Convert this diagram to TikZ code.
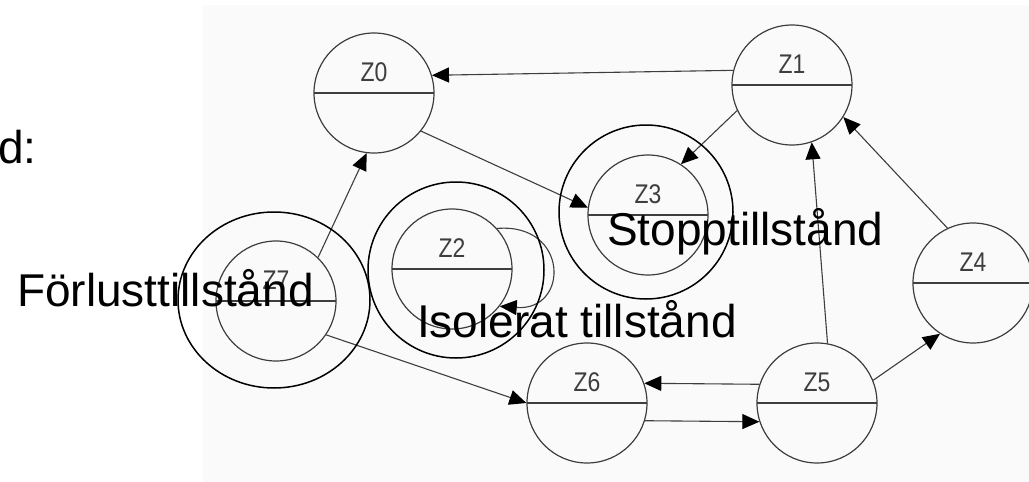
\documentclass[tikz,border=0pt]{standalone}
\usepackage{fontspec}
\setmainfont{Liberation Sans}
\usetikzlibrary{arrows.meta}
\definecolor{stgrey}{RGB}{62,62,62}
\definecolor{bgpaper}{RGB}{250,250,250}
\tikzset{
  state/.style={circle, draw=stgrey, line width=1.2pt, minimum size=120pt,
                inner sep=0pt,
                path picture={\draw[stgrey, line width=1.3pt]
                  (path picture bounding box.west) -- (path picture bounding box.east);}},
  zlbl/.style={font=\fontsize{27}{30}\selectfont, text=stgrey, inner sep=0pt,
               yshift=21pt, xscale=0.85},
  ring/.style={draw=black, line width=1.5pt},
  flow/.style={-{Triangle[length=17pt, width=15pt, color=black]}, line width=1.1pt,
               color=stgrey},
  big/.style={font=\fontsize{46}{55}\selectfont, inner sep=0pt, anchor=base west},
}
\begin{document}
\begin{tikzpicture}[x=1pt, y=-1pt]
\useasboundingbox (0,0) rectangle (1029,482);
\fill[bgpaper] (203,5) rectangle (1029,482);

% states
\node[state, label={[zlbl]center:Z0}] (z0) at (374,93) {};
\node[state, label={[zlbl]center:Z1}] (z1) at (792,85) {};
\node[state, label={[zlbl]center:Z2}] (z2) at (452,269) {};
\node[state, label={[zlbl]center:Z3}] (z3) at (648,215) {};
\node[state, label={[zlbl]center:Z4}] (z4) at (973,283) {};
\node[state, label={[zlbl]center:Z5}] (z5) at (817,403) {};
\node[state, label={[zlbl]center:Z6}] (z6) at (587,403) {};
\node[state, label={[zlbl]center:Z7}] (z7) at (276,301) {};

% transitions
\draw[flow] (z1.166) -- (z0.17);
\draw[flow] (z0.-39) -- (z3.173);
\draw[flow] (z1.205) -- (z3.57);
\draw[flow] (z5.80) -- (z1.-71);
\draw[flow] (z4.115) -- (z1.-32);
\draw[flow] (z5.22) -- (z4.-123);
\draw[flow] (z5.162) -- (z6.19);
\draw[flow] (z6.-17) -- (z5.-162);
\draw[flow] (z7.46) -- (z0.-97);
\draw[flow] (z7.-34) -- (z6.180);
\draw[flow] (z2.42) .. controls +(72,-6) and +(70,5) .. (z2.-38);

% marked states
\draw[ring] (646,212) circle[radius=87pt];
\draw[ring] (456,270) circle[radius=88pt];
\draw[ring] (274,300) ellipse[x radius=96pt, y radius=88pt];

\node[big] (cut) at (-2,163) {d:};
\node[big] (lost) at (17,306) {Förlusttillstånd};
\node[big] (stop) at (607,245) {Stopptillstånd};
\node[big] (iso) at (417,337) {Isolerat tillstånd};
\end{tikzpicture}
\end{document}
